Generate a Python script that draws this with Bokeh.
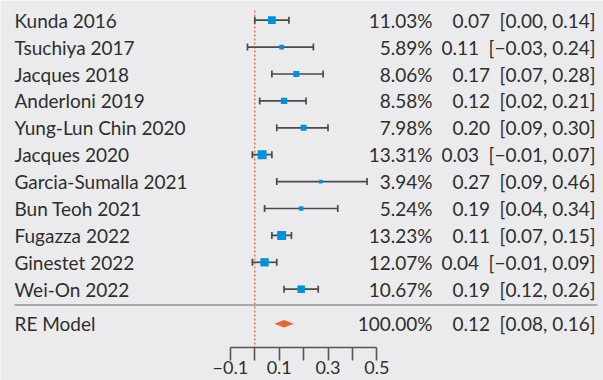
import numpy as np
from bokeh.plotting import figure
from bokeh.models import Range1d, LinearAxis, FixedTicker, ColumnDataSource
from bokeh.core.properties import value
from bokeh.embed import file_html
from bokeh.resources import INLINE

# ---- data -------------------------------------------------------------
studies = ["Kunda 2016", "Tsuchiya 2017", "Jacques 2018", "Anderloni 2019",
           "Yung-Lun Chin 2020", "Jacques 2020", "Garcia-Sumalla 2021",
           "Bun Teoh 2021", "Fugazza 2022", "Ginestet 2022", "Wei-On 2022"]
weights = [11.03, 5.89, 8.06, 8.58, 7.98, 13.31, 3.94, 5.24, 13.23, 12.07, 10.67]
estimates = [0.07, 0.11, 0.17, 0.12, 0.20, 0.03, 0.27, 0.19, 0.11, 0.04, 0.19]
ci_lower = [0.00, -0.03, 0.07, 0.02, 0.09, -0.01, 0.09, 0.04, 0.07, -0.01, 0.12]
ci_upper = [0.14, 0.24, 0.28, 0.21, 0.30, 0.07, 0.46, 0.34, 0.15, 0.09, 0.26]

model_label = "RE Model"
model_weight = 100.00
model_est = 0.12
model_lower = 0.08
model_upper = 0.16

tick_values = [-0.1, 0.0, 0.1, 0.2, 0.3, 0.4, 0.5]
tick_labels = ["\u22120.1", "", "0.1", "", "0.3", "", "0.5"]

# ---- layout (pixel space) ---------------------------------------------
W, H = 603, 380
PX_PER_UNIT = 244.0     # horizontal pixels per unit of effect size
X_ZERO = 254.3          # pixel column of effect = 0
ROW_TOP, ROW_STEP = 19.7, 26.9
SUMMARY_Y = 323.3
SEPARATOR_Y = 304.5
AXIS_Y = 346.5
REFLINE_TOP = 10

BG = "#ebebed"
TEXT = "#2e2e2e"
FONT_NAME = "Lato"
FONT = value(FONT_NAME)
FONT_SIZE = "19px"


def px_to_x(px):
    return (px - X_ZERO) / PX_PER_UNIT


def fmt(v):
    return f"{v:.2f}".replace("-", "\u2212")


def est_ci(e, lo, hi):
    # en space between the estimate and its bracketed interval
    return f"{fmt(e)}\u2002[{fmt(lo)}, {fmt(hi)}]"


n = len(studies)
rows = [ROW_TOP + ROW_STEP * i for i in range(n)]

wmin, wmax = min(weights), max(weights)
sizes = [3.7 + (w - wmin) / (wmax - wmin) * (9.0 - 3.7) for w in weights]

src = ColumnDataSource(dict(
    study=studies, y=rows, est=estimates, lo=ci_lower, hi=ci_upper, size=sizes,
    wtxt=[f"{w:.2f}%" for w in weights],
    etxt=[est_ci(e, l, u) for e, l, u in zip(estimates, ci_lower, ci_upper)],
))

p = figure(width=W, height=H, output_backend="svg", toolbar_location=None,
           x_range=Range1d(px_to_x(0), px_to_x(W)), y_range=Range1d(H, 0),
           min_border=0, background_fill_color=BG, border_fill_color=BG,
           outline_line_color=None)
p.axis.visible = False
p.grid.visible = False

# reference line at zero
p.segment(x0=[0], y0=[REFLINE_TOP], x1=[0], y1=[AXIS_Y], line_color="#e8683f",
          line_width=1.3, line_dash="2 2")

# confidence intervals with end caps
p.segment(x0="lo", y0="y", x1="hi", y1="y", source=src, line_color="#4a4a4a", line_width=1.7)
p.scatter(x="lo", y="y", source=src, marker="dash", angle=np.pi / 2, size=7,
          line_color="#4a4a4a", line_width=1.7)
p.scatter(x="hi", y="y", source=src, marker="dash", angle=np.pi / 2, size=7,
          line_color="#4a4a4a", line_width=1.7)

# point estimates sized by weight
p.scatter(x="est", y="y", source=src, marker="square", size="size",
          fill_color="#0092d9", line_color=None)

# separator above pooled estimate
p.segment(x0=[px_to_x(14)], y0=[SEPARATOR_Y], x1=[px_to_x(597)], y1=[SEPARATOR_Y],
          line_color="#a9a9ab", line_width=2.2)

# pooled estimate diamond
p.patch(x=[model_lower, model_est, model_upper, model_est],
        y=[SUMMARY_Y, SUMMARY_Y - 3.8, SUMMARY_Y, SUMMARY_Y + 3.8],
        fill_color="#e3653a", line_color=None)

# text columns
lab_x = px_to_x(14)
w_x = px_to_x(432)
e_x = px_to_x(595)
p.text(x=lab_x, y="y", text="study", source=src, text_font=FONT, text_font_size=FONT_SIZE,
       text_color=TEXT, text_baseline="middle", text_align="left")
p.text(x=w_x, y="y", text="wtxt", source=src, text_font=FONT, text_font_size=FONT_SIZE,
       text_color=TEXT, text_baseline="middle", text_align="right")
p.text(x=e_x, y="y", text="etxt", source=src, text_font=FONT, text_font_size=FONT_SIZE,
       text_color=TEXT, text_baseline="middle", text_align="right")

p.text(x=[lab_x], y=[SUMMARY_Y], text=[model_label], text_font=FONT, text_font_size=FONT_SIZE,
       text_color=TEXT, text_baseline="middle", text_align="left")
p.text(x=[w_x], y=[SUMMARY_Y], text=[f"{model_weight:.2f}%"], text_font=FONT,
       text_font_size=FONT_SIZE, text_color=TEXT, text_baseline="middle", text_align="right")
p.text(x=[e_x], y=[SUMMARY_Y], text=[est_ci(model_est, model_lower, model_upper)],
       text_font=FONT, text_font_size=FONT_SIZE, text_color=TEXT, text_baseline="middle",
       text_align="right")

# effect-size axis
xaxis = LinearAxis(fixed_location=AXIS_Y, bounds=(tick_values[0], tick_values[-1]),
                   ticker=FixedTicker(ticks=tick_values, minor_ticks=[]))
xaxis.major_label_overrides = {t: lab for t, lab in zip(tick_values, tick_labels)}
xaxis.axis_line_color = "#555555"
xaxis.axis_line_width = 1.6
xaxis.major_tick_line_color = "#555555"
xaxis.major_tick_line_width = 1.6
xaxis.major_tick_in = 0
xaxis.major_tick_out = 13
xaxis.minor_tick_line_color = None
xaxis.major_label_standoff = 1
xaxis.major_label_text_font = FONT_NAME
xaxis.major_label_text_font_size = "18px"
xaxis.major_label_text_color = TEXT
p.add_layout(xaxis, "below")

open("out.html", "w").write(file_html(p, INLINE))
